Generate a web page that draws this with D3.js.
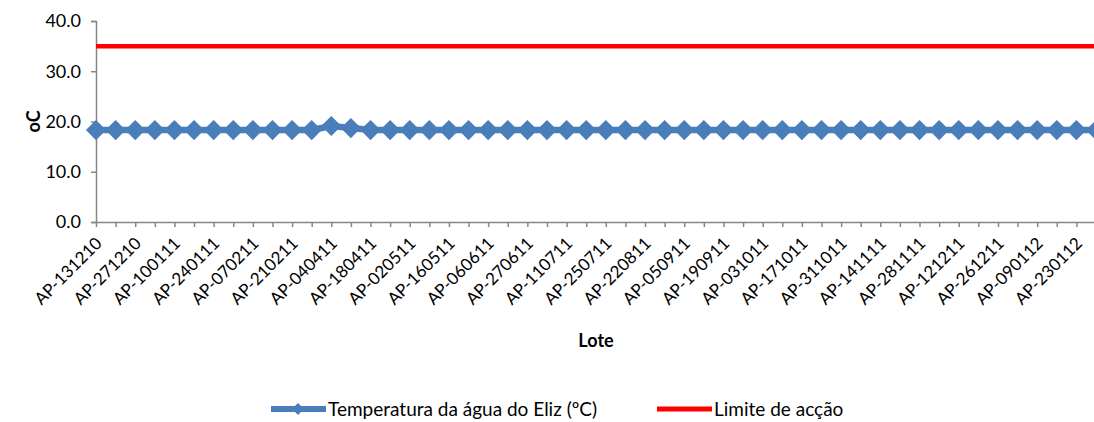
<!DOCTYPE html>
<html>
<head>
<meta charset="utf-8">
<script src="https://cdn.jsdelivr.net/npm/d3@7"></script>
<style>
  body { margin: 0; background: #fff; }
  svg text { font-family: Lato, "Liberation Sans", sans-serif; fill: #000; }
</style>
</head>
<body>
<div id="chart"></div>
<script>
// Lotes (one per week), only every other one gets a label on the axis
var lotes = ["AP-131210", "AP-201210", "AP-271210", "AP-030111", "AP-100111", "AP-170111",
    "AP-240111", "AP-310111", "AP-070211", "AP-140211", "AP-210211", "AP-210311",
    "AP-040411", "AP-110411", "AP-180411", "AP-260411", "AP-020511", "AP-090511",
    "AP-160511", "AP-300511", "AP-060611", "AP-130611", "AP-270611", "AP-040711",
    "AP-110711", "AP-180711", "AP-250711", "AP-080811", "AP-220811", "AP-290811",
    "AP-050911", "AP-120911", "AP-190911", "AP-260911", "AP-031011", "AP-101011",
    "AP-171011", "AP-241011", "AP-311011", "AP-071111", "AP-141111", "AP-211111",
    "AP-281111", "AP-051211", "AP-121211", "AP-191211", "AP-261211", "AP-020112",
    "AP-090112", "AP-160112", "AP-230112", "AP-300112"];
var temperatura = [18.3, 18.3, 18.3, 18.3, 18.3, 18.3, 18.3, 18.3, 18.3, 18.3,
    18.3, 18.3, 19.1, 18.7, 18.3, 18.3, 18.3, 18.3, 18.3, 18.3,
    18.3, 18.3, 18.3, 18.3, 18.3, 18.3, 18.3, 18.3, 18.3, 18.3,
    18.3, 18.3, 18.3, 18.3, 18.3, 18.3, 18.3, 18.3, 18.3, 18.3,
    18.3, 18.3, 18.3, 18.3, 18.3, 18.3, 18.3, 18.3, 18.3, 18.3,
    18.3, 18.3];
var limiteAccao = 35;
var yTicks = [0, 10, 20, 30, 40];
var serieNomes = ["Temperatura da água do Eliz (ºC)", "Limite de acção"];

var W = 1094, H = 422;
var margin = { top: 21, right: -2, bottom: 200, left: 96 };
var width = W - margin.left - margin.right,
    height = H - margin.top - margin.bottom;

var svg = d3.select("#chart").append("svg")
    .attr("width", W)
    .attr("height", H);

var g = svg.append("g")
    .attr("transform", "translate(" + margin.left + "," + margin.top + ")");

// Scales
var x = d3.scalePoint()
    .domain(lotes)
    .range([0, width]);
var y = d3.scaleLinear()
    .domain([0, 40])
    .range([height, 0]);

var axisColor = "#868686";

// Y axis
var yAxis = d3.axisLeft(y)
    .tickValues(yTicks)
    .tickSize(5)
    .tickPadding(10)
    .tickFormat(d3.format(".1f"));
var yAxisGroup = g.append("g").call(yAxis);
yAxisGroup.select(".domain").attr("stroke", axisColor).attr("stroke-width", 1.5);
yAxisGroup.selectAll(".tick line").attr("stroke", axisColor).attr("stroke-width", 1.5);
yAxisGroup.selectAll(".tick text").style("font-size", "18px").attr("fill", "#000");

// X axis
var xAxis = d3.axisBottom(x)
    .tickSize(5)
    .tickSizeOuter(0)
    .tickFormat(function(d, i) { return i % 2 === 0 ? d : ""; });
var xAxisGroup = g.append("g")
    .attr("transform", "translate(0," + height + ")")
    .call(xAxis);
xAxisGroup.select(".domain").attr("stroke", axisColor).attr("stroke-width", 1.5);
xAxisGroup.selectAll(".tick line").attr("stroke", axisColor).attr("stroke-width", 1.5);
xAxisGroup.selectAll(".tick text")
    .style("font-size", "17px")
    .attr("fill", "#000")
    .attr("text-anchor", "end")
    .attr("transform", "translate(-2,14) rotate(-45)")
    .attr("dy", "0.7em")
    .attr("y", 0);

// Limite de acção
g.append("line")
    .attr("x1", 0)
    .attr("x2", width)
    .attr("y1", y(limiteAccao))
    .attr("y2", y(limiteAccao))
    .attr("stroke", "#FF0000")
    .attr("stroke-width", 4.5);

// Temperatura
var blue = "#4A7EBB";
var line = d3.line()
    .x(function(d, i) { return x(lotes[i]); })
    .y(function(d) { return y(d); });
g.append("path")
    .datum(temperatura)
    .attr("fill", "none")
    .attr("stroke", blue)
    .attr("stroke-width", 6.5)
    .attr("d", line);

var diamond = d3.symbol().type(d3.symbolDiamond2).size(260);
g.selectAll(".marker")
    .data(temperatura)
    .enter()
    .append("path")
    .attr("class", "marker")
    .attr("d", diamond)
    .attr("fill", blue)
    .attr("transform", function(d, i) { return "translate(" + x(lotes[i]) + "," + y(d) + ")"; });

// Axis titles
svg.append("text")
    .attr("transform", "translate(40," + (margin.top + height / 2) + ") rotate(-90)")
    .attr("text-anchor", "middle")
    .style("font-size", "18px")
    .style("font-weight", "bold")
    .text("oC");
svg.append("text")
    .attr("x", 596)
    .attr("y", 347)
    .attr("text-anchor", "middle")
    .style("font-size", "18px")
    .style("font-weight", "bold")
    .text("Lote");

// Legend
var legend = svg.append("g").attr("transform", "translate(0,409)");
legend.append("line")
    .attr("x1", 271).attr("x2", 326).attr("y1", 0).attr("y2", 0)
    .attr("stroke", blue).attr("stroke-width", 6);
legend.append("path")
    .attr("d", d3.symbol().type(d3.symbolDiamond2).size(90))
    .attr("fill", blue)
    .attr("transform", "translate(298,0)");
legend.append("text")
    .attr("x", 328).attr("y", 0).attr("dy", "0.35em")
    .style("font-size", "19px")
    .text(serieNomes[0]);
legend.append("line")
    .attr("x1", 657).attr("x2", 712).attr("y1", 0).attr("y2", 0)
    .attr("stroke", "#FF0000").attr("stroke-width", 5);
legend.append("text")
    .attr("x", 714).attr("y", 0).attr("dy", "0.35em")
    .style("font-size", "19px")
    .text(serieNomes[1]);
</script>
</body>
</html>
